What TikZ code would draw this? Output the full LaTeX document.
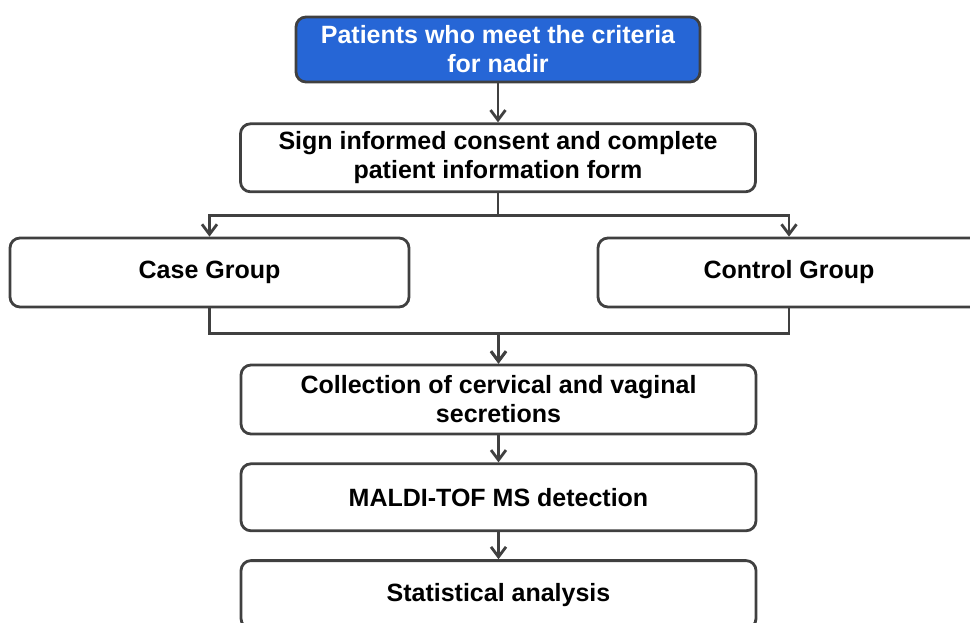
\documentclass[tikz,border=0pt]{standalone}
\usepackage{fontspec}
\setmainfont{Liberation Sans}
\usetikzlibrary{
    arrows.meta,
    positioning,
    calc,
}
\definecolor{boxblue}{RGB}{38,102,214}
\definecolor{linegray}{RGB}{64,64,64}

\begin{document}
\begin{tikzpicture}[
    x=1pt, y=-1pt,
    font=\fontsize{25}{29}\selectfont\bfseries,
    stage/.style={draw=linegray, line width=2.8pt, rounded corners=10pt, align=center, inner sep=0pt, minimum width=515pt, minimum height=68pt},
    start/.style={stage, fill=boxblue, text=white},
    link/.style={draw=linegray, line width=2.8pt, -{Straight Barb[length=10pt, width=15pt]}},
]
\useasboundingbox (0,0) rectangle (970,622);

\node[start, minimum width=404pt, minimum height=65pt] (patients) at (498,49.5) {Patients who meet the criteria\\for nadir};
\node[stage] (consent) [below=39pt of patients] {Sign informed consent and complete\\patient information form};

\node[stage, minimum width=399pt, minimum height=69pt] (case) at (209.5,272.5) {Case Group};
\node[stage, minimum width=382pt, minimum height=69pt] (control) at (789,272.5) {Control Group};

\node[stage, minimum height=69pt] (collect) at (498.5,399.5) {Collection of cervical and vaginal\\secretions};
\node[stage, minimum height=67pt] (maldi) [below=27pt of collect] {MALDI-TOF MS detection};
\node[stage] (stats) [below=27pt of maldi] {Statistical analysis};

\draw[link] (patients) -- (consent);
\draw[link] (consent.south) -- ++(0,22) -| (case.north);
\draw[link] (consent.south) -- ++(0,22) -| (control.north);
\draw[link] (case.south) -- ++(0,25) -| (collect.north);
\draw[link] (control.south) -- ++(0,25) -| (collect.north);
\draw[link] (collect) -- (maldi);
\draw[link] (maldi) -- (stats);

\end{tikzpicture}
\end{document}
